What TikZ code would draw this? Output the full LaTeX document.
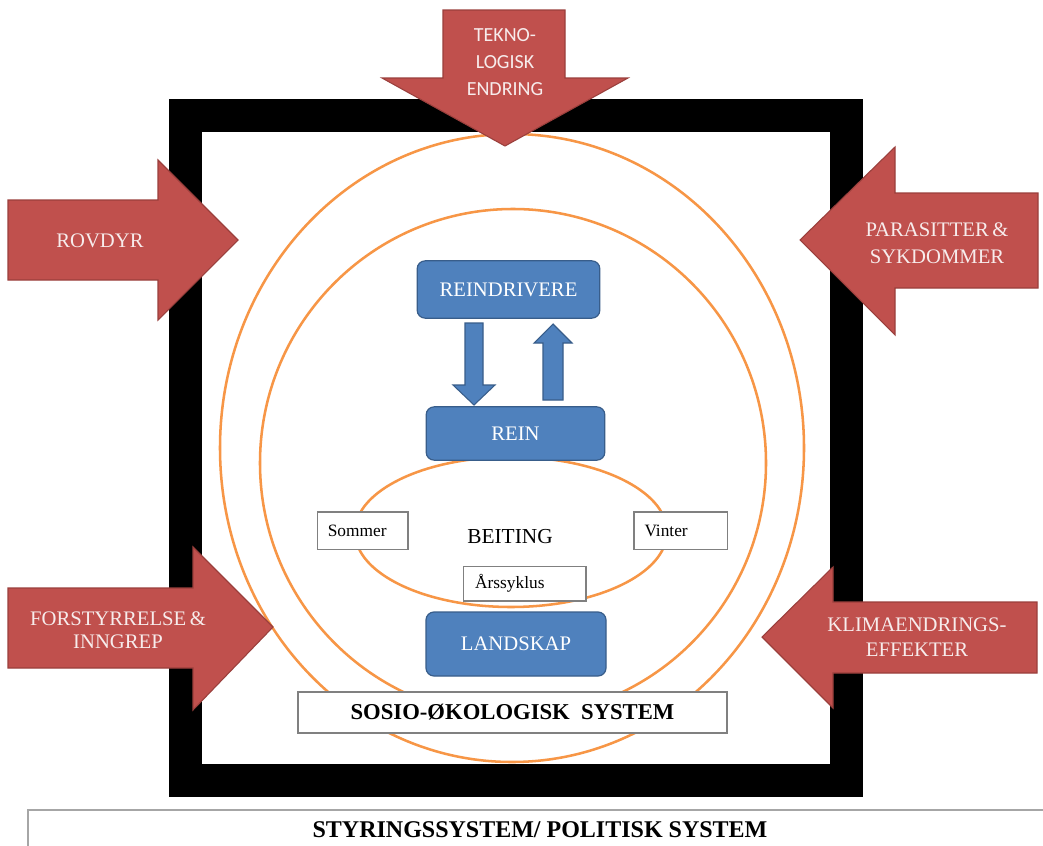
\documentclass[tikz,border=0pt]{standalone}
\usepackage{fontspec}
\setmainfont{Liberation Serif}
\newfontfamily\calibri{Carlito}
\definecolor{arrowred}{HTML}{C0504D}
\definecolor{arrowredd}{HTML}{9A3F3C}
\definecolor{boxblue}{HTML}{4F81BD}
\definecolor{boxblued}{HTML}{385D8A}
\definecolor{ellorange}{HTML}{F79646}
\definecolor{redtext}{HTML}{F7ECEC}
\definecolor{framegray}{HTML}{808080}
\begin{document}
\begin{tikzpicture}[x=0.75pt,y=-0.75pt,
  redarrow/.style={fill=arrowred,draw=arrowredd,line width=0.8pt,line join=miter},
  bluearrow/.style={fill=boxblue,draw=boxblued,line width=0.8pt},
  redlabel/.style={text=redtext,align=center,font=\fontsize{15.5}{19}\selectfont},
  bluebox/.style={fill=boxblue,draw=boxblued,line width=0.9pt,rounded corners=6pt,
    text=white,font=\fontsize{15.5}{18}\selectfont},
  smallbox/.style={fill=white,draw=framegray,line width=1pt,inner xsep=8pt,
    align=left,font=\fontsize{13}{15}\selectfont},
  orangeline/.style={draw=ellorange,line width=1.9pt}]
\useasboundingbox (0,0) rectangle (1043,846);
\fill[white] (0,0) rectangle (1043,846);

% bottom governance box
\draw[draw=framegray!70,line width=1pt] (28,850) -- (28,810) -- (1050,810);
\node[font=\bfseries\fontsize{18}{20}\selectfont] (styring) at (540,830) {STYRINGSSYSTEM/ POLITISK SYSTEM};

% black frame
\draw[line width=24.75pt] (185,115.5) rectangle (846.5,780);

% ellipses
\draw[orangeline] (512,448) ellipse [x radius=292, y radius=314];
\draw[orangeline] (513,463) ellipse [x radius=253, y radius=254];
\draw[orangeline] (511,532) ellipse [x radius=156, y radius=75];

% blue boxes
\node[bluebox,minimum width=137pt,minimum height=43pt] (reindrivere) at (508.5,289.5) {REINDRIVERE};
\node[bluebox,minimum width=134pt,minimum height=40pt] (rein) at (515.5,433.5) {REIN};
\node[bluebox,minimum width=135pt,minimum height=48pt] (landskap) at (516,644) {LANDSKAP};

% blue block arrows between REINDRIVERE and REIN
\draw[bluearrow] (465,323) -- (483,323) -- (483,385) -- (495,385) -- (474,405)
  -- (453,385) -- (465,385) -- cycle;
\draw[bluearrow] (543,400) -- (563,400) -- (563,343) -- (572,343) -- (553,324)
  -- (534,343) -- (543,343) -- cycle;

% grazing
\node[font=\fontsize{16}{18}\selectfont] (beiting) at (510,537) {BEITING};
\node[smallbox,text width=52pt,minimum height=28pt] (sommer) at (362.5,530.5) {Sommer};
\node[smallbox,text width=54pt,minimum height=28pt] (vinter) at (680.5,530.5) {Vinter};
\node[smallbox,text width=74pt,inner xsep=9pt,minimum height=26pt] (arssyklus) at (524.5,583.5) {Årssyklus};

% socio-ecological system label
\node[fill=white,draw=framegray,line width=1.1pt,minimum width=321.75pt,minimum height=30.75pt,
  font=\bfseries\fontsize{17}{19}\selectfont] (sosio) at (512.5,712.5) {SOSIO-ØKOLOGISK\ \ SYSTEM};

% red block arrows
\draw[redarrow] (443,10) -- (565,10) -- (565,78) -- (628,78) -- (505,146) -- (382,78)
  -- (443,78) -- cycle;
\node[text=redtext,align=center,font=\calibri\fontsize{15}{20}\selectfont] (tekno) at (505,62)
  {TEKNO-\\LOGISK\\ENDRING};

\draw[redarrow] (8,200) -- (158,200) -- (158,160) -- (238,240) -- (158,320) -- (158,280)
  -- (8,280) -- cycle;
\node[redlabel] (rovdyr) at (100,241) {ROVDYR};

\draw[redarrow] (1038,193) -- (895,193) -- (895,147) -- (800,240) -- (895,335) -- (895,288)
  -- (1038,288) -- cycle;
\node[redlabel,font=\fontsize{15.5}{20.5}\selectfont] (parasitter) at (937,243) {PARASITTER\,\&\\SYKDOMMER};

\draw[redarrow] (8,588) -- (193,588) -- (193,547) -- (273,627) -- (193,710) -- (193,668)
  -- (8,668) -- cycle;
\node[redlabel,font=\fontsize{15.5}{17.5}\selectfont] (forstyrrelse) at (118,630) {FORSTYRRELSE\,\&\\INNGREP};

\draw[redarrow] (1037,602) -- (833,602) -- (833,567) -- (762,637) -- (833,708) -- (833,673)
  -- (1037,673) -- cycle;
\node[redlabel,font=\fontsize{15.5}{18.5}\selectfont] (klima) at (917,637) {KLIMAENDRINGS-\\EFFEKTER};
\end{tikzpicture}
\end{document}
